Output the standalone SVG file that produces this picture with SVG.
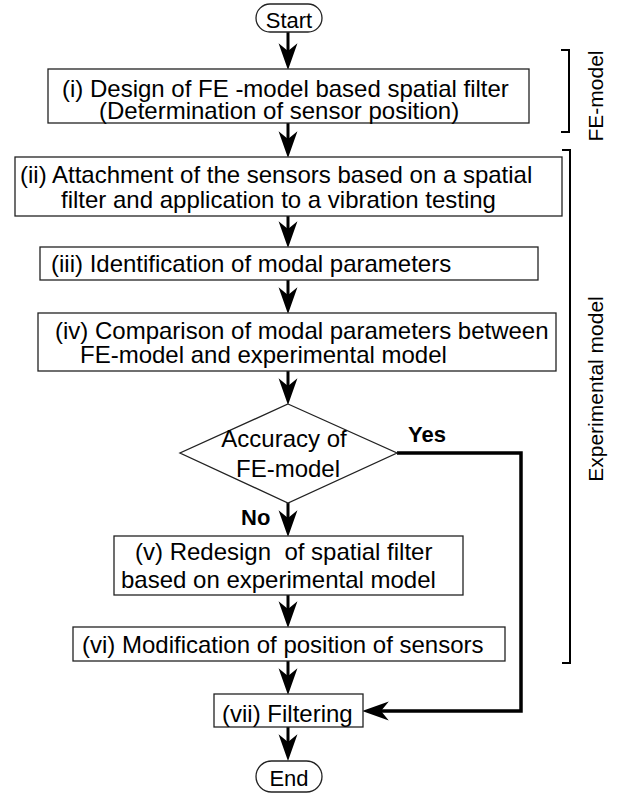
<svg xmlns="http://www.w3.org/2000/svg" width="617" height="794" viewBox="0 0 617 794">
<defs>
<style>
.box{fill:#fff;stroke:#222;stroke-width:1.3}
.t{font-family:"Liberation Sans",Arial,sans-serif;font-size:24px;fill:#000}
.b{font-family:"Liberation Sans",Arial,sans-serif;font-size:22px;font-weight:bold;fill:#000}
.side{font-family:"Liberation Sans",Arial,sans-serif;font-size:21px;fill:#000}
.c{fill:none;stroke:#000;stroke-width:3}
.br{fill:none;stroke:#000;stroke-width:2}
</style>
<marker id="ah" markerUnits="userSpaceOnUse" markerWidth="30" markerHeight="20" viewBox="-17 -9 26 18" refX="0" refY="0" orient="auto">
<path d="M8,0 L-16,-8.5 L-9,0 L-16,8.5 Z" fill="#000"/>
</marker>
</defs>
<rect width="617" height="794" fill="#fff"/>
<g id="connectors">
<line class="c" x1="288" y1="32" x2="288" y2="61" marker-end="url(#ah)"/>
<line class="c" x1="288" y1="123" x2="288" y2="149" marker-end="url(#ah)"/>
<line class="c" x1="288" y1="216" x2="288" y2="239" marker-end="url(#ah)"/>
<line class="c" x1="288" y1="280" x2="288" y2="305" marker-end="url(#ah)"/>
<line class="c" x1="288" y1="371" x2="288" y2="396" marker-end="url(#ah)"/>
<line class="c" x1="288" y1="503" x2="288" y2="528" marker-end="url(#ah)"/>
<line class="c" x1="288" y1="595" x2="288" y2="619" marker-end="url(#ah)"/>
<line class="c" x1="288" y1="661" x2="288" y2="686" marker-end="url(#ah)"/>
<line class="c" x1="288" y1="727" x2="288" y2="752" marker-end="url(#ah)"/>
<path class="c" style="stroke-width:3.5" d="M397,453 H521 V711 H371" marker-end="url(#ah)"/>
<text class="b" x="408" y="442">Yes</text>
<text class="b" x="241" y="525">No</text>
</g>
<g id="start">
<rect class="box" x="256" y="4" width="66" height="28" rx="14"/>
<text class="t" x="289" y="28" text-anchor="middle" style="font-size:22px">Start</text>
</g>
<g id="step1">
<rect class="box" x="48" y="69" width="481" height="54"/>
<text class="t" x="62" y="97">(i) Design of FE -model based spatial filter</text>
<text class="t" x="99" y="119">(Determination of sensor position)</text>
</g>
<g id="step2">
<rect class="box" x="15" y="157" width="547" height="59"/>
<text class="t" x="20" y="183">(ii) Attachment of the sensors based on a spatial</text>
<text class="t" x="61" y="208">filter and application to a vibration testing</text>
</g>
<g id="step3">
<rect class="box" x="40" y="247" width="498" height="33"/>
<text class="t" x="51" y="272">(iii) Identification of modal parameters</text>
</g>
<g id="step4">
<rect class="box" x="38" y="313" width="518" height="58"/>
<text class="t" x="55" y="339">(iv) Comparison of modal parameters between</text>
<text class="t" x="80" y="363">FE-model and experimental model</text>
</g>
<g id="decision">
<polygon class="box" points="288,404 397,453 288,503 180,453"/>
<text class="t" x="284" y="447" text-anchor="middle">Accuracy of</text>
<text class="t" x="288" y="477" text-anchor="middle">FE-model</text>
</g>
<g id="step5">
<rect class="box" x="114" y="536" width="349" height="59"/>
<text class="t" x="135" y="560" style="white-space:pre">(v) Redesign  of spatial filter</text>
<text class="t" x="121" y="588">based on experimental model</text>
</g>
<g id="step6">
<rect class="box" x="73" y="627" width="432" height="34"/>
<text class="t" x="82" y="653">(vi) Modification of position of sensors</text>
</g>
<g id="step7">
<rect class="box" x="214" y="694" width="149" height="33"/>
<text class="t" x="222" y="722">(vii) Filtering</text>
</g>
<g id="end">
<rect class="box" x="256" y="761" width="66" height="31" rx="15.5"/>
<text class="t" x="289" y="786" text-anchor="middle" style="font-size:22px">End</text>
</g>
<g id="fe-model-bracket">
<path class="br" d="M561,50 H569 V132 H561"/>
<text class="side" transform="translate(603,96) rotate(-90)" text-anchor="middle">FE-model</text>
</g>
<g id="experimental-bracket">
<path class="br" d="M562,150 H570 V663 H562"/>
<text class="side" transform="translate(603,389) rotate(-90)" text-anchor="middle">Experimental model</text>
</g>
</svg>
